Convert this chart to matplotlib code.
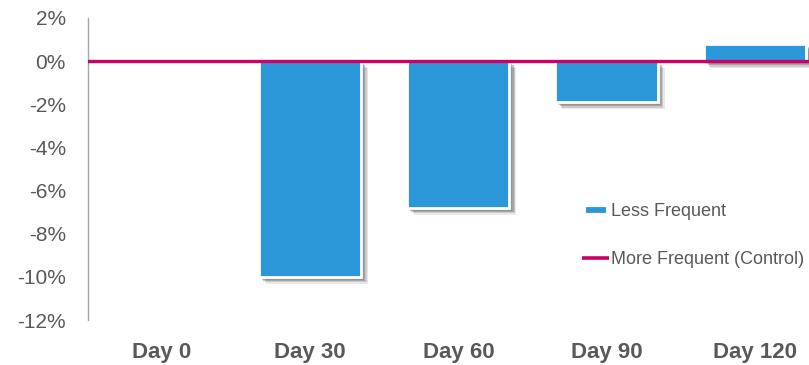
import matplotlib
matplotlib.use("Agg")
import matplotlib.pyplot as plt
import matplotlib.patheffects as pe
from matplotlib.lines import Line2D
from matplotlib.ticker import FuncFormatter

plt.rcParams['font.family'] = ['Liberation Sans', 'DejaVu Sans']

days = ["Day 0", "Day 30", "Day 60", "Day 90", "Day 120"]
less_frequent = [0.0, -10.0, -6.8, -1.9, 0.8]   # % change vs control
control_level = 0.0
y_ticks = [2, 0, -2, -4, -6, -8, -10, -12]

BLUE = "#2C97D9"
MAGENTA = "#CC0066"
TEXT = "#595959"

fig = plt.figure(figsize=(8.09, 3.65), dpi=100)
ax = fig.add_axes([88 / 809, 1 - 320 / 365, 1 - 88 / 809, (320 - 18) / 365])

x = range(len(days))
bars = ax.bar(x, less_frequent, width=0.69, color=BLUE, edgecolor="white",
              linewidth=2.0, zorder=2)
# soft drop shadow: a few stacked, offset translucent copies
shadow = [pe.SimplePatchShadow(offset=(o, -o), shadow_rgbFace="#6f6f6f", alpha=a)
          for o, a in ((5, 0.15), (4, 0.25), (3, 0.4), (2, 0.3))]
for b in bars:
    if b.get_height() != 0:
        b.set_path_effects(shadow + [pe.Normal()])

ax.axhline(control_level, color=MAGENTA, linewidth=2.4, zorder=3)

ax.set_xlim(-0.5, 4.367)
ax.set_ylim(-12, 2)
ax.set_yticks(y_ticks)
ax.yaxis.set_major_formatter(FuncFormatter(lambda v, _: f"{v:.0f}%"))
ax.set_xticks(list(x))
ax.set_xticklabels(days, fontsize=16, fontweight="bold", color=TEXT)
ax.tick_params(axis="y", length=0, pad=16, labelsize=15, labelcolor=TEXT)
ax.tick_params(axis="x", length=0, pad=16)

for s in ("top", "right", "bottom"):
    ax.spines[s].set_visible(False)
ax.spines["left"].set_color("#A6A6A6")
ax.spines["left"].set_linewidth(1.0)

handles = [
    Line2D([], [], color=BLUE, linestyle="none", marker="_", markersize=14.5,
           markeredgewidth=4.2),
    Line2D([], [], color=MAGENTA, linewidth=2.6, solid_capstyle="butt"),
]
leg = ax.legend(handles, ["Less Frequent", "More Frequent (Control)"],
                loc="upper left", bbox_to_anchor=((575 - 88) / 721, 1 - (196 - 18) / 302),
                frameon=False, fontsize=13, handlelength=1.5, handletextpad=0.1,
                labelspacing=1.7, borderaxespad=0)
for t in leg.get_texts():
    t.set_color(TEXT)

fig.savefig("out.png", dpi=100)
